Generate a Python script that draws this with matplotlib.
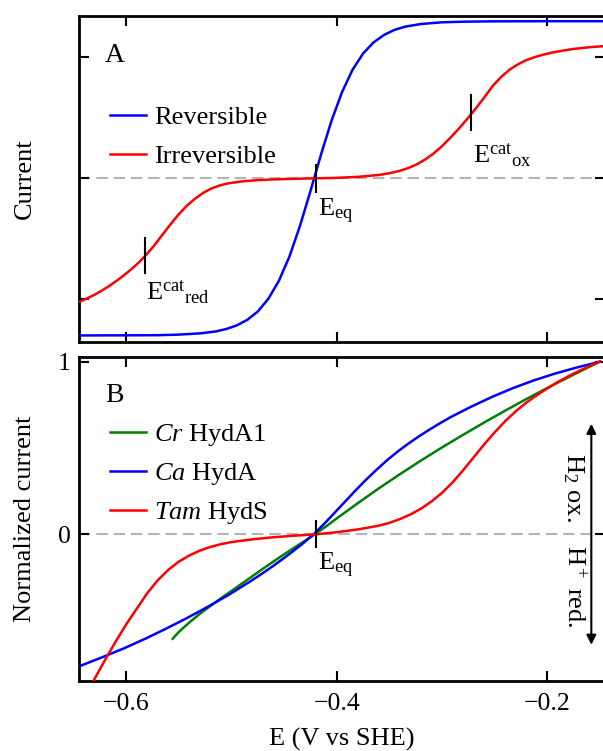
import matplotlib
matplotlib.use("Agg")
import matplotlib.pyplot as plt

plt.rcParams['font.family'] = ['Liberation Serif', 'DejaVu Serif']
plt.rcParams['mathtext.fontset'] = 'custom'
plt.rcParams['mathtext.rm'] = 'Liberation Serif'
plt.rcParams['mathtext.it'] = 'Liberation Serif:italic'
plt.rcParams['axes.linewidth'] = 2.0

# ---- data ----
E_EQ = -0.42
E_CAT_RED = -0.582
E_CAT_OX = -0.272

# panel A: simulated catalytic waves
E_rev = [-0.645, -0.60, -0.57, -0.55, -0.53, -0.515, -0.505, -0.495, -0.485,
         -0.475, -0.465, -0.455, -0.445, -0.435, -0.425, -0.415, -0.405,
         -0.395, -0.385, -0.375, -0.365, -0.355, -0.345, -0.335, -0.32,
         -0.30, -0.28, -0.25, -0.20, -0.145]
I_rev = [-1.297, -1.296, -1.295, -1.290, -1.280, -1.264, -1.244, -1.214,
         -1.168, -1.099, -0.994, -0.846, -0.646, -0.394, -0.105, 0.195, 0.475,
         0.711, 0.896, 1.030, 1.122, 1.184, 1.226, 1.252, 1.274, 1.288, 1.293,
         1.296, 1.297, 1.297]

E_irr = [-0.645, -0.637, -0.630, -0.622, -0.614, -0.606, -0.598, -0.590,
         -0.582, -0.574, -0.567, -0.559, -0.551, -0.543, -0.535, -0.527,
         -0.519, -0.511, -0.503, -0.49, -0.475, -0.46, -0.44, -0.42, -0.40,
         -0.38, -0.36, -0.35, -0.34, -0.332, -0.324, -0.316, -0.308, -0.300,
         -0.292, -0.284, -0.276, -0.268, -0.260, -0.252, -0.244, -0.236,
         -0.228, -0.220, -0.212, -0.204, -0.196, -0.186, -0.175, -0.16,
         -0.145]
I_irr = [-1.02, -0.99, -0.96, -0.92, -0.875, -0.825, -0.77, -0.71, -0.64,
         -0.56, -0.48, -0.39, -0.305, -0.23, -0.17, -0.12, -0.083, -0.058,
         -0.041, -0.025, -0.015, -0.009, -0.004, 0.0, 0.004, 0.012, 0.028,
         0.042, 0.062, 0.085, 0.115, 0.155, 0.205, 0.265, 0.335, 0.41, 0.49,
         0.575, 0.665, 0.76, 0.835, 0.895, 0.94, 0.975, 1.0, 1.02, 1.037,
         1.053, 1.068, 1.082, 1.092]

# panel B: normalized voltammograms
E_cr = [-0.556, -0.55, -0.54, -0.53, -0.52, -0.51, -0.50, -0.49, -0.48,
        -0.47, -0.46, -0.45, -0.44, -0.43, -0.421, -0.41, -0.40, -0.38,
        -0.36, -0.34, -0.32, -0.30, -0.28, -0.26, -0.24, -0.22, -0.20,
        -0.18, -0.16, -0.15]
I_cr = [-0.605, -0.565, -0.51, -0.46, -0.415, -0.37, -0.328, -0.285, -0.242,
        -0.199, -0.157, -0.116, -0.076, -0.037, 0.0, 0.046, 0.092, 0.18,
        0.266, 0.348, 0.427, 0.503, 0.576, 0.647, 0.716, 0.783, 0.847, 0.909,
        0.97, 1.0]

E_ca = [-0.645, -0.622, -0.602, -0.582, -0.562, -0.542, -0.522, -0.502,
        -0.482, -0.472, -0.462, -0.452, -0.442, -0.432, -0.422, -0.412,
        -0.402, -0.392, -0.382, -0.372, -0.362, -0.352, -0.342, -0.332,
        -0.322, -0.312, -0.302, -0.292, -0.272, -0.252, -0.232, -0.212,
        -0.192, -0.172, -0.15]
I_ca = [-0.765, -0.71, -0.66, -0.605, -0.546, -0.484, -0.418, -0.348, -0.272,
        -0.232, -0.19, -0.146, -0.10, -0.052, 0.0, 0.06, 0.125, 0.19, 0.255,
        0.317, 0.375, 0.43, 0.48, 0.525, 0.567, 0.606, 0.643, 0.678, 0.74,
        0.797, 0.848, 0.893, 0.932, 0.966, 1.0]

E_tam = [-0.636, -0.63, -0.62, -0.61, -0.60, -0.59, -0.58, -0.57, -0.56,
         -0.55, -0.54, -0.53, -0.52, -0.51, -0.50, -0.48, -0.46, -0.44,
         -0.42, -0.40, -0.38, -0.36, -0.35, -0.34, -0.33, -0.32, -0.31,
         -0.30, -0.29, -0.28, -0.27, -0.26, -0.25, -0.24, -0.23, -0.22,
         -0.21, -0.20, -0.19, -0.18, -0.17, -0.16, -0.15]
I_tam = [-0.90, -0.835, -0.725, -0.62, -0.52, -0.43, -0.34, -0.265, -0.205,
         -0.158, -0.122, -0.094, -0.073, -0.057, -0.045, -0.029, -0.017,
         -0.008, 0.0, 0.012, 0.028, 0.05, 0.066, 0.088, 0.115, 0.148, 0.19,
         0.24, 0.30, 0.37, 0.445, 0.52, 0.59, 0.655, 0.712, 0.762, 0.805,
         0.845, 0.882, 0.915, 0.946, 0.974, 1.0]

x_ticks = [-0.6, -0.4, -0.2]
x_tick_labels = ['\u22120.6', '\u22120.4', '\u22120.2']

FS = 19
TICK_FS = 18.5

fig = plt.figure(figsize=(6.03, 7.51), dpi=100)
axA = fig.add_axes([79 / 603, 1 - 341.5 / 751, 526 / 603, 325.5 / 751])
axB = fig.add_axes([79 / 603, 1 - 680.5 / 751, 526 / 603, 324 / 751])

for ax in (axA, axB):
    ax.set_xlim(-0.645, -0.145)
    ax.set_xticks(x_ticks)
    ax.tick_params(direction='in', length=7, width=1.5, top=True, right=True,
                   labelsize=TICK_FS)
    ax.axhline(0, color='#b4b4b4', lw=1.5, dashes=(5.5, 2.8), zorder=1)

# ---- panel A ----
axA.plot(E_rev, I_rev, color='#0000ff', lw=1.8, label='Reversible', zorder=3)
axA.plot(E_irr, I_irr, color='#ff0000', lw=1.8, label='Irreversible', zorder=3)
axA.set_ylim(-1.347, 1.34)
axA.set_yticks([-1, 0, 1])
axA.set_xticklabels([])
axA.set_yticklabels([])
axA.set_ylabel('Current', fontsize=FS)
axA.yaxis.set_label_coords(-0.082, 0.5)

axA.plot([E_CAT_RED, E_CAT_RED], [-0.78, -0.49], color='k', lw=1.5, zorder=4)
axA.plot([E_CAT_OX, E_CAT_OX], [0.40, 0.69], color='k', lw=1.5, zorder=4)
axA.plot([E_EQ, E_EQ], [-0.11, 0.11], color='k', lw=1.5, zorder=4)
axA.text(-0.581, -1.005, r'E$^{\mathrm{cat}}{}_{\mathrm{red}}$', fontsize=FS)
axA.text(-0.2706, 0.124, r'E$^{\mathrm{cat}}{}_{\mathrm{ox}}$', fontsize=FS)
axA.text(-0.4178, -0.317, r'E$_{\mathrm{eq}}$', fontsize=FS)
axA.text(0.0494, 0.8587, 'A', transform=axA.transAxes, fontsize=FS + 1)
axA.legend(loc='center left', bbox_to_anchor=(0.059, 0.628), frameon=False,
           fontsize=FS, handlelength=1.36, handletextpad=0.3,
           labelspacing=0.6, borderpad=0, borderaxespad=0)

# ---- panel B ----
axB.plot(E_cr, I_cr, color='#008000', lw=1.8, label=r'$\mathit{Cr}$ HydA1', zorder=3)
axB.plot(E_ca, I_ca, color='#0000ff', lw=1.8, label=r'$\mathit{Ca}$ HydA', zorder=3)
axB.plot(E_tam, I_tam, color='#ff0000', lw=1.8, label=r'$\mathit{Tam}$ HydS', zorder=3)
axB.set_ylim(-0.847, 1.03)
axB.set_yticks([0, 1])
axB.set_yticklabels(['0', '1'])
axB.set_xticklabels(x_tick_labels)
axB.tick_params(axis='x', pad=9)
axB.tick_params(axis='y', pad=6)
axB.set_ylabel('Normalized current', fontsize=FS)
axB.yaxis.set_label_coords(-0.082, 0.5)
axB.set_xlabel('E (V vs SHE)', fontsize=FS, labelpad=9)

axB.plot([E_EQ, E_EQ], [-0.075, 0.075], color='k', lw=1.5, zorder=4)
axB.text(-0.418, -0.211, r'E$_{\mathrm{eq}}$', fontsize=FS)
axB.text(0.0494, 0.8596, 'B', transform=axB.transAxes, fontsize=FS + 1)
axB.legend(loc='center left', bbox_to_anchor=(0.059, 0.637), frameon=False,
           fontsize=FS, handlelength=1.36, handletextpad=0.3,
           labelspacing=0.5, borderpad=0, borderaxespad=0)

axB.annotate('', xy=(-0.158, 0.64), xytext=(-0.158, -0.64),
             arrowprops=dict(arrowstyle='<|-|>', color='k', lw=1.5,
                             mutation_scale=14, shrinkA=0, shrinkB=0))
axB.text(-0.175, 0.27, r'H$_2$ ox.', rotation=-90, fontsize=FS,
         ha='center', va='center')
axB.text(-0.175, -0.30, r'H$^+$ red.', rotation=-90, fontsize=FS,
         ha='center', va='center')

fig.savefig('out.png', dpi=100)
